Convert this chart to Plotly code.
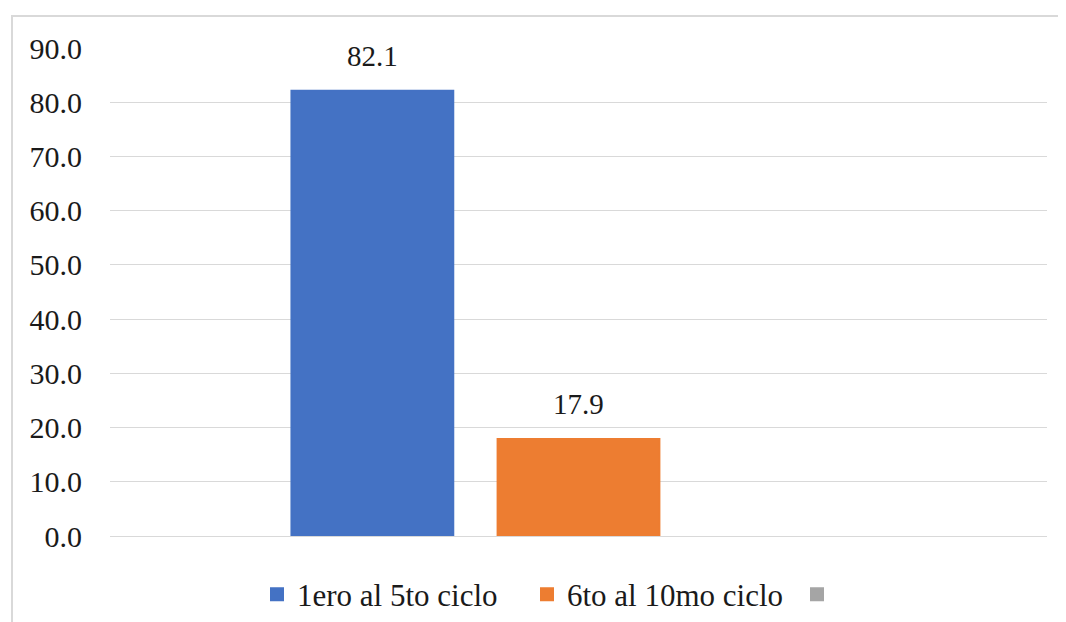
import plotly.graph_objects as go

categories = ["Ciclo"]
series_names = ["1ero al 5to ciclo", "6to al 10mo ciclo", ""]
series_values = [[82.1], [17.9], [None]]
series_colors = ["#4472C4", "#ED7D31", "#A5A5A5"]
tick_vals = [0, 10, 20, 30, 40, 50, 60, 70, 80, 90]

W, H = 1058, 614
ML, MR, MT, MB = 102, 19, 40, 86
BARGAP = 0.34
FONT = "Liberation Serif"
FS = 30
TXT = "#1a1a1a"

fig = go.Figure()
for name, vals, col in zip(series_names, series_values, series_colors):
    fig.add_trace(go.Bar(x=categories, y=vals, name=name, marker_color=col,
                         marker_line=dict(color=col, width=2), showlegend=True))

plot_w = W - ML - MR
slot = plot_w * (1 - BARGAP) / len(series_names)
for i, vals in enumerate(series_values):
    v = vals[0]
    if v is None:
        continue
    fig.add_annotation(x=categories[0], y=v, xref="x", yref="y",
                       text=f"{v:.1f}", showarrow=False,
                       xshift=(i - (len(series_names) - 1) / 2) * slot,
                       yshift=35, font=dict(family=FONT, size=FS - 1, color=TXT))

# outer border
pw, ph = plot_w, H - MT - MB
fig.add_shape(type="rect", xref="paper", yref="paper",
              x0=(4 - ML) / pw, x1=1.1, y0=-0.3, y1=(H - MB - 8) / ph,
              line=dict(color="#d9d9d9", width=2), fillcolor="rgba(0,0,0,0)", layer="below")

fig.update_layout(
    width=W, height=H,
    margin=dict(l=ML, r=MR, t=MT, b=MB, autoexpand=False),
    barmode="group", bargap=BARGAP, bargroupgap=0.215,
    plot_bgcolor="white", paper_bgcolor="white",
    font=dict(family=FONT, size=FS, color=TXT),
    xaxis=dict(showticklabels=False, showgrid=False, zeroline=False, showline=False, fixedrange=True),
    yaxis=dict(range=[0, 90], tickvals=tick_vals, tickformat=".1f",
               showgrid=True, gridcolor="#d9d9d9", gridwidth=1,
               zeroline=True, zerolinecolor="#d9d9d9", zerolinewidth=1,
               showline=False, ticks="", ticklabelstandoff=27,
               tickfont=dict(family=FONT, size=FS, color=TXT)),
    legend=dict(orientation="h", x=(257 - 110) / 937, xanchor="left", y=-0.12, yanchor="middle",
                font=dict(family=FONT, size=31, color=TXT),
                itemwidth=30, entrywidth=225, entrywidthmode="pixels",
                traceorder="normal", bgcolor="rgba(0,0,0,0)"),
    showlegend=True,
)

fig.write_html("out.html")
